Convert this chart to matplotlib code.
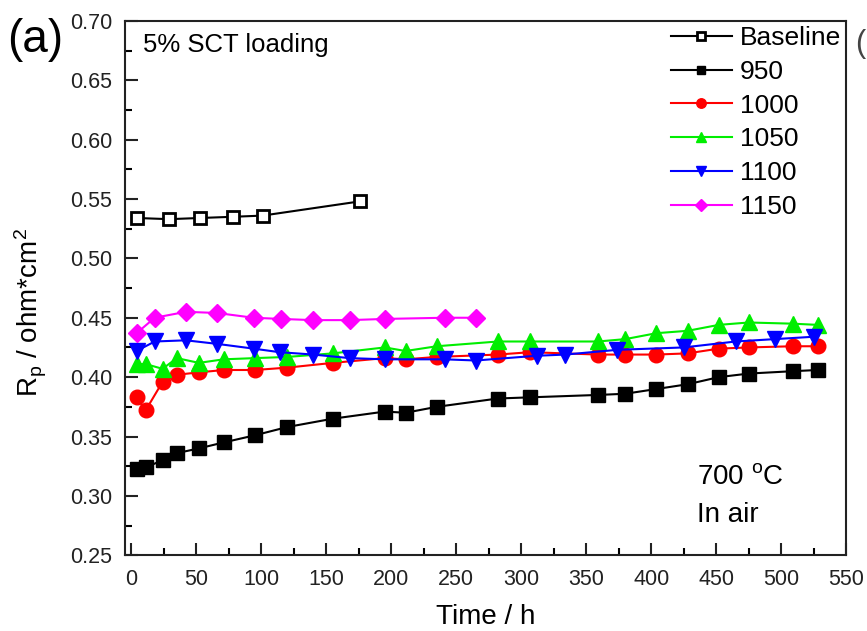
import matplotlib
matplotlib.use("Agg")
import matplotlib.pyplot as plt
from matplotlib.ticker import MultipleLocator

plt.rcParams['font.family'] = ['Liberation Sans', 'DejaVu Sans']
plt.rcParams['mathtext.default'] = 'regular'

# ---- data ----
t_baseline = [4, 29, 53, 78, 101, 176]
rp_baseline = [0.534, 0.533, 0.534, 0.535, 0.536, 0.548]

t_main = [4, 11, 24, 35, 52, 71, 95, 120, 155, 195, 211, 235, 282, 307, 359, 380, 404, 428, 452, 475, 509, 528]
rp_950 = [0.323, 0.324, 0.330, 0.336, 0.340, 0.345, 0.351, 0.358, 0.365, 0.371, 0.370, 0.375,
          0.382, 0.383, 0.385, 0.386, 0.390, 0.394, 0.400, 0.403, 0.405, 0.406]
rp_1000 = [0.383, 0.372, 0.396, 0.402, 0.404, 0.406, 0.406, 0.408, 0.412, 0.416, 0.415, 0.417,
           0.419, 0.421, 0.419, 0.419, 0.419, 0.420, 0.424, 0.425, 0.426, 0.426]
rp_1050 = [0.411, 0.411, 0.407, 0.416, 0.412, 0.415, 0.416, 0.417, 0.420, 0.425, 0.422, 0.426,
           0.430, 0.430, 0.430, 0.432, 0.437, 0.439, 0.444, 0.446, 0.445, 0.444]

t_1100 = [4, 18, 42, 66, 94, 114, 140, 168, 195, 241, 265, 312, 334, 374, 425, 465, 495, 525]
rp_1100 = [0.422, 0.430, 0.431, 0.428, 0.424, 0.421, 0.419, 0.416, 0.415, 0.415, 0.414,
           0.418, 0.419, 0.423, 0.425, 0.430, 0.432, 0.434]

t_1150 = [4, 18, 42, 66, 94, 115, 140, 168, 195, 241, 265]
rp_1150 = [0.437, 0.450, 0.455, 0.454, 0.450, 0.449, 0.448, 0.448, 0.449, 0.450, 0.450]

labels = ['Baseline', '950', '1000', '1050', '1100', '1150']

fig = plt.figure(figsize=(8.67, 6.31), dpi=100)
ax = fig.add_axes([0.144, 0.120, 0.832, 0.847])

lw = 1.5
ax.plot(t_baseline, rp_baseline, '-s', color='black', mfc='white', mec='black', mew=2,
        ms=8.5, lw=lw, label=labels[0])
ax.plot(t_main, rp_950, '-s', color='black', ms=9.5, lw=lw, label=labels[1])
ax.plot(t_main, rp_1000, '-o', color='#ff0000', ms=10.5, lw=lw, label=labels[2])
ax.plot(t_main, rp_1050, '-^', color='#00ee00', ms=12, lw=lw, label=labels[3])
ax.plot(t_1100, rp_1100, '-v', color='#0000ff', ms=12, lw=lw, label=labels[4])
ax.plot(t_1150, rp_1150, '-D', color='#ff00ff', ms=9.5, lw=lw, label=labels[5])

ax.set_xlim(-5, 550)
ax.set_ylim(0.25, 0.70)
ax.xaxis.set_major_locator(MultipleLocator(50))
ax.xaxis.set_minor_locator(MultipleLocator(25))
ax.yaxis.set_major_locator(MultipleLocator(0.05))
ax.yaxis.set_minor_locator(MultipleLocator(0.025))
ax.yaxis.set_major_formatter(matplotlib.ticker.FormatStrFormatter('%.2f'))

ax.tick_params(which='both', direction='in', top=False, right=False, width=1.5)
ax.tick_params(which='major', length=9, labelsize=15.5, colors='#222222')
ax.tick_params(axis='x', which='major', pad=10)
ax.tick_params(axis='y', which='major', pad=9)
ax.tick_params(which='minor', length=5)
for s in ax.spines.values():
    s.set_linewidth(1.5)
    s.set_color('#222222')

ax.set_xlabel('Time / h', fontsize=20, labelpad=10)
ax.set_ylabel(r'R$_{p}$ / ohm*cm$^{2}$', fontsize=20)
ax.yaxis.set_label_coords(-0.105, 0.455)

ax.legend(loc='upper right', frameon=False, fontsize=19, handlelength=2.3,
          handletextpad=0.3, labelspacing=0.37, borderaxespad=0.0, markerscale=0.65,
          borderpad=0.2)

ax.text(0.025, 0.955, '5% SCT loading', transform=ax.transAxes, fontsize=18.5,
        ha='left', va='center')
ax.text(0.793, 0.146, r'700 $^{o}$C', transform=ax.transAxes, fontsize=20,
        ha='left', va='center')
ax.text(0.793, 0.075, 'In air', transform=ax.transAxes, fontsize=20,
        ha='left', va='center')

fig.text(0.008, 0.937, '(a)', fontsize=33, ha='left', va='center')
fig.text(0.986, 0.93, '(', fontsize=22, ha='left', va='center', color='#444444')

fig.savefig('out.png', dpi=100)
